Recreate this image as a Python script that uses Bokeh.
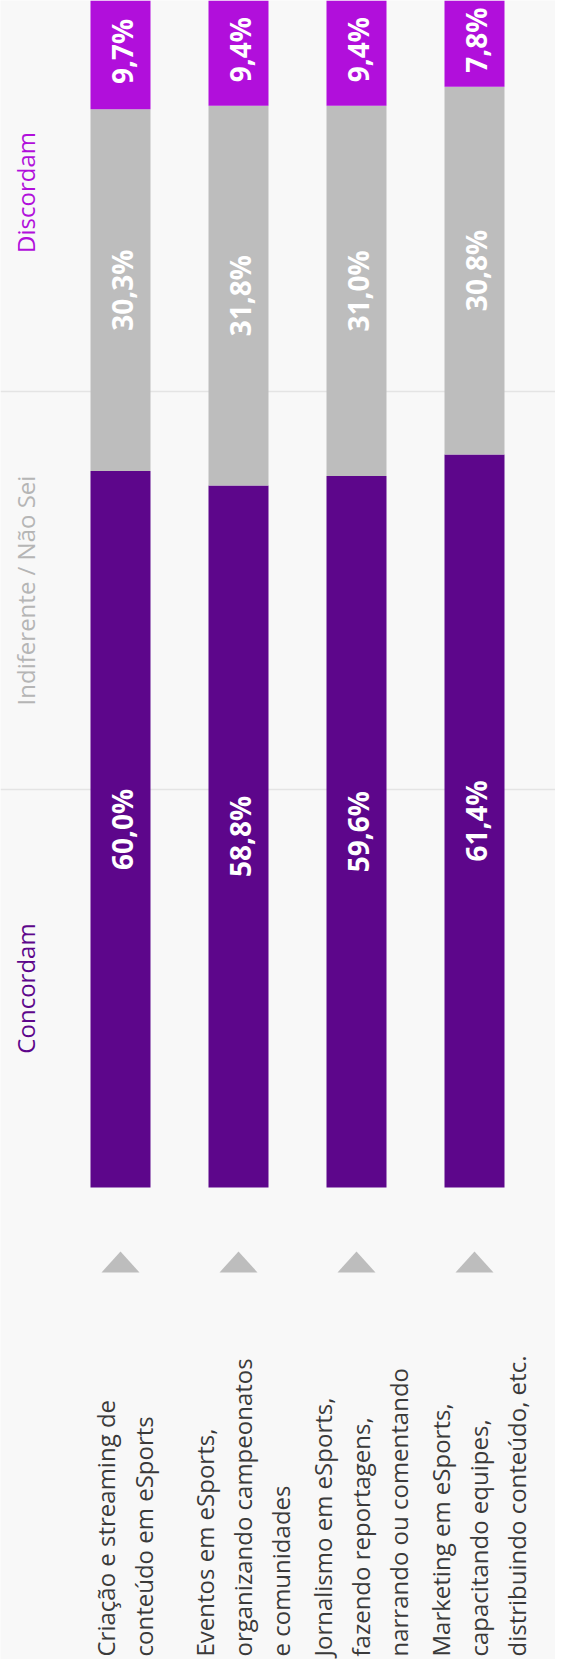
import math
from bokeh.plotting import figure
from bokeh.models import Range1d, Span, ColumnDataSource
from bokeh.embed import file_html
from bokeh.resources import INLINE
from bokeh.core.properties import value

# ---------------- data ----------------
categories = [
    "Criação e streaming de\nconteúdo em eSports",
    "Eventos em eSports,\norganizando campeonatos\ne comunidades",
    "Jornalismo em eSports,\nfazendo reportagens,\nnarrando ou comentando",
    "Marketing em eSports,\ncapacitando equipes,\ndistribuindo conteúdo, etc.",
]
concordam = [60.0, 58.8, 59.6, 61.4]
indiferente = [30.3, 31.8, 31.0, 30.8]
discordam = [9.7, 9.4, 9.4, 7.8]
series_names = ["Concordam", "Indiferente / Não Sei", "Discordam"]
series_colors = ["#5d068b", "#bdbdbd", "#b10fdb"]
legend_colors = ["#5d068b", "#b5b5b5", "#b10fdb"]

# ---------------- layout constants (pixels) ----------------
W, H = 555, 1659
PX_X = 118.0      # pixels between category centres
X0 = 120.0        # pixel position of first category centre
Y0 = 1187.0       # pixel position of 0 %
PX_Y = 11.94      # pixels per percent
FONT = value("Open Sans")
BG = "#f8f8f8"

p = figure(width=W, height=H, output_backend="svg", toolbar_location=None,
           x_range=Range1d(-X0 / PX_X, (W - X0) / PX_X),
           y_range=Range1d((Y0 - H) / PX_Y, Y0 / PX_Y),
           x_axis_location=None, y_axis_location=None,
           min_border=0, outline_line_color=None,
           background_fill_color=BG, border_fill_color=BG)
p.grid.visible = False

# grid lines at thirds
for frac in (1 / 3, 2 / 3):
    p.add_layout(Span(location=100 * frac, dimension="width",
                      line_color="#e4e4e4", line_width=1.5, level="underlay"))

xs = list(range(len(categories)))
series = [concordam, indiferente, discordam]
bottom = [0.0] * len(xs)
bar_w = 60.0 / PX_X
for vals, col in zip(series, series_colors):
    top = [b + v for b, v in zip(bottom, vals)]
    src = ColumnDataSource(dict(
        x=xs, bottom=bottom, top=top,
        mid=[(b + t) / 2 for b, t in zip(bottom, top)],
        label=[f"{v:.1f}%".replace(".", ",") for v in vals]))
    p.vbar(x="x", bottom="bottom", top="top", width=bar_w, source=src,
           fill_color=col, line_color=None)
    p.text(x="x", y="mid", text="label", source=src, angle=math.pi / 2,
           text_align="center", text_baseline="middle", text_color="white",
           text_font=FONT, text_font_size="28px", text_font_style="bold",
           x_offset=1)
    bottom = top

# series labels on the left, centred in thirds
leg_x = (25.0 - X0) / PX_X
leg_y = [100 * (2 * i + 1) / 6 for i in range(len(series_names))]
p.text(x=[leg_x] * 3, y=leg_y, text=series_names, angle=math.pi / 2,
       text_align="center", text_baseline="middle",
       text_color=legend_colors, text_font=FONT, text_font_size="24px")

# triangles pointing to the bars
tri_half = 19.0 / PX_X
tri_apex = (Y0 - 1251.0) / PX_Y
tri_base = (Y0 - 1272.0) / PX_Y
p.patches(xs=[[x - tri_half, x + tri_half, x] for x in xs],
          ys=[[tri_base, tri_base, tri_apex] for _ in xs],
          fill_color="#bdbdbd", line_color=None)

# category labels
cat_y = (Y0 - 1656.0) / PX_Y
p.text(x=xs, y=[cat_y] * len(xs), text=categories, angle=math.pi / 2,
       text_align="left", text_baseline="middle", text_color="#3a3a3a",
       text_font=FONT, text_font_size="24px", text_line_height=1.15,
       x_offset=4)

open("out.html", "w").write(file_html(p, INLINE))
